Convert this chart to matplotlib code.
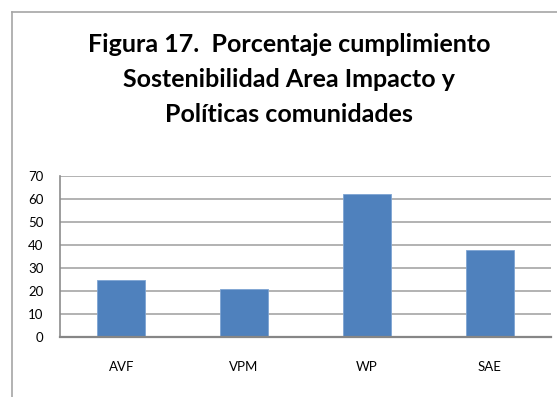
import matplotlib
matplotlib.use("Agg")
import matplotlib.pyplot as plt
from matplotlib.lines import Line2D

categories = ["AVF", "VPM", "WP", "SAE"]
values = [25, 20.7, 62, 38]
y_ticks = [0, 10, 20, 30, 40, 50, 60, 70]

plt.rcParams["font.family"] = ["Lato", "DejaVu Sans"]

W, H = 557, 397
fig = plt.figure(figsize=(W / 100, H / 100), dpi=100)
fig.patch.set_facecolor("white")

# outer chart frame (left and top edges)
fig.add_artist(Line2D([12 / W, 12 / W], [0, 1 - 12 / H], transform=fig.transFigure,
                      color="#a6a6a6", lw=1.2))
fig.add_artist(Line2D([12 / W, 1], [1 - 12 / H, 1 - 12 / H], transform=fig.transFigure,
                      color="#a6a6a6", lw=1.2))

title_lines = ["Figura 17.  Porcentaje cumplimiento",
               "Sostenibilidad Area Impacto y",
               "Políticas comunidades"]
for i, line in enumerate(title_lines):
    fig.text(289 / W, 1 - (52 + 35 * i) / H, line, ha="center", va="baseline",
             fontsize=18, fontweight="bold", color="black")

left, right, top, bottom = 60, 551, 176, 337
ax = fig.add_axes([left / W, 1 - bottom / H, (right - left) / W, (bottom - top) / H])
x = list(range(len(categories)))
ax.bar(x, values, width=0.39, color="#4f81bd", edgecolor="#7ea4d3", linewidth=0.6, zorder=3)
ax.set_xlim(-0.5, len(categories) - 0.5)
ax.set_ylim(0, 70)
ax.set_yticks(y_ticks)
ax.set_yticklabels([str(v) for v in y_ticks])
ax.set_xticks(x)
ax.set_xticklabels(categories)
ax.yaxis.grid(True, color="#a6a6a6", lw=1.2, zorder=0)
ax.tick_params(axis="both", length=0, labelsize=9.5, colors="black")
ax.tick_params(axis="y", pad=12)
ax.tick_params(axis="x", pad=17)
for s in ["top", "right"]:
    ax.spines[s].set_visible(False)
ax.spines["left"].set_color("#8c8c8c")
ax.spines["left"].set_linewidth(1.2)
ax.spines["bottom"].set_color("#868686")
ax.spines["bottom"].set_linewidth(1.6)
ax.spines["bottom"].set_zorder(4)

fig.savefig("out.png", dpi=100, facecolor="white")
